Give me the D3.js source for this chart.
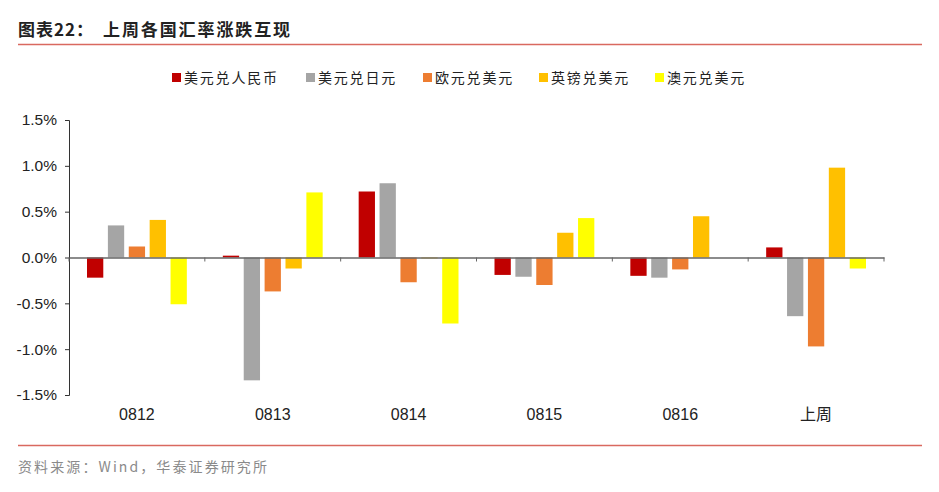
<!DOCTYPE html>
<html><head><meta charset="utf-8">
<script src="https://cdn.jsdelivr.net/npm/d3@7"></script>
<style>body{margin:0;background:#fff;}svg{display:block;}</style>
</head><body>
<svg id="c" width="939" height="492"></svg>
<script>
const categories = ["0812","0813","0814","0815","0816","上周"];
const seriesNames = ["美元兑人民币","美元兑日元","欧元兑美元","英镑兑美元","澳元兑美元"];
const seriesColors = ["#C00000","#A5A5A5","#ED7D31","#FFC000","#FFFF00"];
const usdCny = [-0.22, 0.02, 0.72, -0.19, -0.20, 0.11];
const usdJpy = [0.35, -1.34, 0.81, -0.21, -0.22, -0.64];
const eurUsd = [0.12, -0.37, -0.27, -0.30, -0.13, -0.97];
const gbpUsd = [0.41, -0.12, -0.01, 0.27, 0.45, 0.98];
const audUsd = [-0.51, 0.71, -0.72, 0.43, 0.00, -0.12];
const seriesValues = [usdCny, usdJpy, eurUsd, gbpUsd, audUsd];
const yTicks = [1.5, 1.0, 0.5, 0.0, -0.5, -1.0, -1.5];

const svg = d3.select("#c");
const font = "'Liberation Sans', Arial, sans-serif";
const cjk = "'Noto Sans CJK SC', sans-serif";

// title
svg.append("text").attr("x",18).attr("y",36).attr("font-family",cjk).attr("font-weight","bold")
  .attr("font-size",17).attr("fill","#222").attr("letter-spacing",1).text("图表22：");
svg.append("text").attr("x",103).attr("y",36).attr("font-family",cjk).attr("font-weight","bold")
  .attr("font-size",17).attr("fill","#222").attr("letter-spacing",1.9).text("上周各国汇率涨跌互现");
svg.append("line").attr("x1",18).attr("x2",922).attr("y1",44.5).attr("y2",44.5)
  .attr("stroke","#D9695F").attr("stroke-width",1.5);

const x0 = d3.scaleBand().domain(categories).range([69,884]).paddingInner(0).paddingOuter(0);
const x1 = d3.scaleBand().domain(d3.range(seriesNames.length)).range([18, x0.bandwidth()-18]).paddingInner(0.22).paddingOuter(0);
const y = d3.scaleLinear().domain([-1.5,1.5]).range([395,120]);

// y axis
const yAxis = d3.axisLeft(y).tickValues(yTicks).tickSize(4).tickFormat(d=>d.toFixed(1)+"%");
const gy = svg.append("g").attr("transform","translate(69,0)").call(yAxis);
gy.select(".domain").attr("stroke","#333");
gy.selectAll(".tick line").attr("stroke","#333");
gy.selectAll(".tick text").attr("font-family",font).attr("font-size",15.5).attr("fill","#222").attr("x",-12);

// bars
const groups = svg.append("g").selectAll("g").data(categories).join("g")
  .attr("transform",d=>`translate(${x0(d)},0)`);
groups.selectAll("rect").data((d,i)=>seriesValues.map((s,j)=>({j, v:s[i]}))).join("rect")
  .attr("x",d=>x1(d.j)).attr("width",x1.bandwidth())
  .attr("y",d=>y(Math.max(0,d.v))).attr("height",d=>Math.abs(y(d.v)-y(0)))
  .attr("fill",d=>seriesColors[d.j]);

// x axis at zero
const xAxis = d3.axisBottom(x0).tickSize(0).tickFormat("");
const gx = svg.append("g").attr("transform",`translate(0,${y(0)})`).call(xAxis);
gx.select(".domain").attr("stroke","#666").attr("stroke-width",1.5);
const bounds = categories.map(c=>x0(c)).concat([884]);
svg.append("g").selectAll("line").data(bounds).join("line")
  .attr("x1",d=>d).attr("x2",d=>d).attr("y1",y(0)).attr("y2",y(0)+4).attr("stroke","#666");

// category labels
svg.append("g").selectAll("text").data(categories).join("text")
  .attr("x",d=>x0(d)+x0.bandwidth()/2).attr("y",420).attr("text-anchor","middle")
  .attr("font-family",(d)=>/\d/.test(d)?font:cjk).attr("font-size",16).attr("fill","#222").text(d=>d);

// legend
const legendX = [172, 306, 423, 539, 655];
const lg = svg.append("g").selectAll("g").data(seriesNames).join("g")
  .attr("transform",(d,i)=>`translate(${legendX[i]},78)`);
lg.append("rect").attr("x",0).attr("y",-5).attr("width",9).attr("height",9).attr("fill",(d,i)=>seriesColors[i]);
lg.append("text").attr("x",12).attr("y",5).attr("font-family",cjk).attr("font-size",14)
  .attr("letter-spacing",1.8).attr("fill","#222").text(d=>d);

// bottom rule + source
svg.append("line").attr("x1",18).attr("x2",922).attr("y1",445.5).attr("y2",445.5)
  .attr("stroke","#D9695F").attr("stroke-width",1.5);
svg.append("text").attr("x",18).attr("y",472).attr("font-family",cjk).attr("font-size",14)
  .attr("fill","#8a8a8a").attr("letter-spacing",2.1).text("资料来源：Wind，华泰证券研究所");
</script>
</body></html>
